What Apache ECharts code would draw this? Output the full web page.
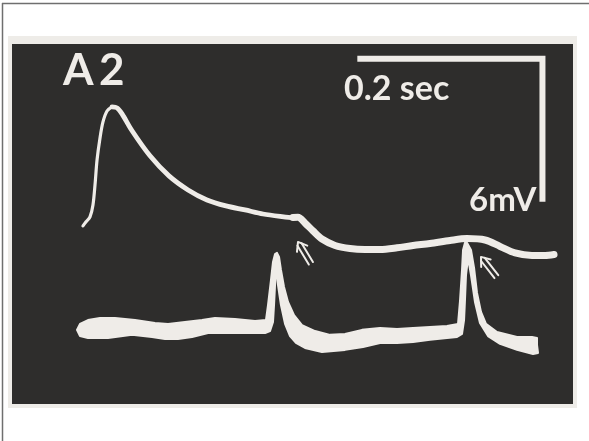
<!DOCTYPE html>
<html>
<head>
<meta charset="utf-8">
<script src="https://cdn.jsdelivr.net/npm/echarts@6/dist/echarts.min.js"></script>
<style>
html,body{margin:0;padding:0;background:#ffffff;}
#chart{width:589px;height:441px;}
</style>
</head>
<body>
<div id="chart"></div>
<script>
// ---- Data (time in ms, potential in mV) ----
const upperTimes = [75.6,78.9,83.2,86.4,88.6,90.8,94.0,97.2,101.6,107.0,112.4,117.8,128.6,148.0,168.5,189.1,209.6,230.1,250.7,270.1,288.5,302.5,307.9,315.5,324.1,333.8,347.9,364.1,380.3,396.5,414.9,432.2,450.5,472.1,490.5,510.0,526.2,542.4,560.7,574.8,584.5];
const upperValues = [7.47,7.64,7.85,8.35,9.19,10.24,11.16,11.83,12.29,12.46,12.42,12.17,11.46,10.41,9.57,8.98,8.56,8.31,8.14,7.97,7.87,7.82,7.83,7.59,7.26,6.92,6.65,6.52,6.48,6.48,6.55,6.65,6.73,6.86,6.94,6.88,6.61,6.34,6.23,6.23,6.27];

// lower trace: upper outline (left to right) and lower outline (right to left)
const lowerTopTimes = [72.4,81.0,94.0,110.2,131.8,153.4,167.5,185.8,204.2,218.2,239.8,261.5,273.3,275.5,278.7,280.9,283.1,285.2,287.4,289.5,292.8,297.1,303.6,312.2,326.3,342.5,358.7,377.1,396.5,414.9,432.2,450.5,468.9,480.8,483.0,485.1,486.2,488.3,490.5,494.8,498.1,501.3,505.6,511.0,522.9,544.5,560.7,566.1,566.1,567.2];
const lowerTopValues = [3.36,3.52,3.61,3.61,3.52,3.40,3.36,3.44,3.52,3.61,3.57,3.48,3.52,4.15,5.20,5.96,6.29,6.34,6.17,5.62,4.91,4.28,3.73,3.31,3.06,2.90,2.94,3.11,3.19,3.15,3.19,3.23,3.27,3.36,4.36,5.62,6.46,6.76,6.76,6.46,5.71,4.66,3.86,3.36,3.02,2.81,2.81,2.77,2.48,2.14];
const lowerBottomTimes = [561.8,544.5,526.2,513.2,504.5,499.1,494.8,491.6,489.4,488.3,487.3,485.1,479.7,468.9,450.5,432.2,414.9,396.5,378.1,358.7,333.8,315.5,305.7,299.3,293.9,289.5,286.3,284.1,283.1,282.0,280.9,277.7,272.3,253.9,229.0,210.7,193.4,178.3,164.2,150.2,128.6,102.6,81.0,72.4,69.1];
const lowerBottomValues = [2.10,2.27,2.52,2.85,3.40,4.28,5.41,6.13,5.41,4.36,3.52,2.94,2.81,2.77,2.69,2.60,2.56,2.56,2.39,2.27,2.18,2.35,2.56,2.85,3.36,4.15,4.99,5.79,4.99,4.15,3.44,3.06,2.98,2.98,2.98,2.98,2.81,2.73,2.73,2.81,2.90,2.77,2.77,2.85,3.11];

// calibration bar: 0.2 sec horizontal, 6 mV vertical
const scaleBarTimes = [372, 572, 572];
const scaleBarValues = [14.48, 14.48, 8.48];
const scaleTimeLabel = '0.2 sec';
const scaleVoltLabel = '6mV';
const panelLabel = 'A\u20092';

// arrow markers (tip position and tilt in degrees)
const arrowTimes = [307.9, 505.6];
const arrowValues = [6.80, 6.17];
const arrowTilts = [31, 38];

const TRACE = '#efece8';
const PANEL = '#2e2d2c';

function pairs(ts, vs, a, b) {
  const out = [];
  for (let i = a; i <= b; i++) out.push([ts[i], vs[i]]);
  return out;
}
const n = upperTimes.length - 1;

const chart = echarts.init(document.getElementById('chart'), null, {renderer: 'canvas'});

const lineSeries = (data, width, smooth) => ({
  type: 'line', data: data, symbol: 'none', smooth: smooth, silent: true,
  lineStyle: {color: TRACE, width: width, cap: 'round', join: 'round'}, z: 3
});

chart.setOption({
  animation: false,
  backgroundColor: '#ffffff',
  grid: {left: 13, top: 44, width: 560, height: 360, show: false},
  xAxis: {type: 'value', min: 0, max: 605, show: false},
  yAxis: {type: 'value', min: 0, max: 15.1, show: false},
  series: [
    {
      type: 'custom', silent: true, z: 2,
      data: [[0, 0]],
      renderItem: function (params, api) {
        const pts = [];
        for (let i = 0; i < lowerTopTimes.length; i++) pts.push(api.coord([lowerTopTimes[i], lowerTopValues[i]]));
        for (let i = 0; i < lowerBottomTimes.length; i++) pts.push(api.coord([lowerBottomTimes[i], lowerBottomValues[i]]));
        return {type: 'polygon', shape: {points: pts}, style: {fill: TRACE, stroke: TRACE, lineWidth: 2, lineJoin: 'round'}};
      }
    },
    lineSeries(pairs(upperTimes, upperValues, 0, 9), 3.2, 0.3),
    lineSeries(pairs(upperTimes, upperValues, 9, 22), 4.8, 0.3),
    lineSeries(pairs(upperTimes, upperValues, 21, n), 7, 0.3),
    {
      type: 'line', silent: true, symbol: 'none', z: 3,
      data: scaleBarTimes.map((t, i) => [t, scaleBarValues[i]]),
      lineStyle: {color: TRACE, width: 6, cap: 'butt', join: 'miter'}
    }
  ]
});

const graphics = [
  {type: 'rect', z: -2, shape: {x: 8, y: 36, width: 569, height: 372}, style: {fill: '#eeece8'}},
  {type: 'rect', z: -1, shape: {x: 12, y: 44, width: 561, height: 360}, style: {fill: PANEL}},
  {type: 'line', z: 20, shape: {x1: 2.5, y1: 3, x2: 2.5, y2: 441}, style: {stroke: '#6f6f6f', lineWidth: 1.5}},
  {type: 'line', z: 20, shape: {x1: 2, y1: 3.5, x2: 589, y2: 3.5}, style: {stroke: '#6f6f6f', lineWidth: 1.5}},
  {type: 'text', z: 20, x: 63, y: 71, style: {text: panelLabel, fill: TRACE, font: 'bold 44px Lato', align: 'left', verticalAlign: 'middle'}},
  {type: 'text', z: 20, x: 344, y: 89, style: {text: scaleTimeLabel, fill: TRACE, font: 'bold 34px Lato', align: 'left', verticalAlign: 'middle'}},
  {type: 'text', z: 20, x: 469, y: 200, style: {text: scaleVoltLabel, fill: TRACE, font: 'bold 33px Lato', align: 'left', verticalAlign: 'middle'}}
];

arrowTimes.forEach((t, i) => {
  const p = chart.convertToPixel({gridIndex: 0}, [t, arrowValues[i]]);
  const L = 25;
  const st = {stroke: TRACE, lineWidth: 2, lineCap: 'round', lineJoin: 'round', fill: null};
  graphics.push({
    type: 'group', z: 15, x: p[0], y: p[1], rotation: arrowTilts[i] * Math.PI / 180,
    children: [
      {type: 'polyline', shape: {points: [[-6, 8], [0, 0], [6, 8]]}, style: st},
      {type: 'line', shape: {x1: -2.4, y1: 3, x2: -2.4, y2: L}, style: st},
      {type: 'line', shape: {x1: 2.4, y1: 3, x2: 2.4, y2: L}, style: st}
    ]
  });
});

chart.setOption({graphic: graphics});
</script>
</body>
</html>
